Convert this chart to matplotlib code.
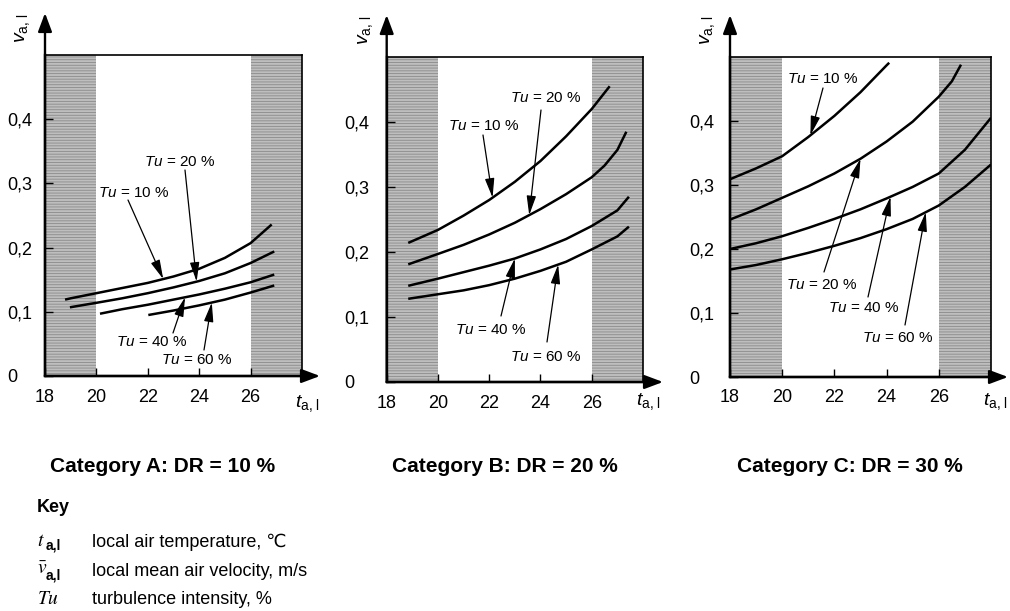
import numpy as np
import matplotlib
matplotlib.use("Agg")
import matplotlib.pyplot as plt

plt.rcParams['font.family'] = ['Liberation Sans', 'DejaVu Sans']
plt.rcParams['mathtext.fontset'] = 'custom'
plt.rcParams['mathtext.rm'] = 'Liberation Sans'
plt.rcParams['mathtext.it'] = 'Liberation Sans:italic'
plt.rcParams['mathtext.bf'] = 'Liberation Sans:bold'
plt.rcParams['hatch.linewidth'] = 0.6

# turbulence intensity of each curve, %
tu_levels = [10, 20, 40, 60]

# Category A: DR = 10 %  (local air temperature, local mean air velocity)
temps_a = [
    [18.78, 19, 20, 21, 22, 23, 24, 25, 26, 26.82],
    [18.97, 20, 21, 22, 23, 24, 25, 26, 26.92],
    [20.14, 21, 22, 23, 24, 25, 26, 26.92],
    [22.02, 23, 24, 25, 26, 26.92],
]
vel_a = [
    [0.119, 0.121, 0.129, 0.137, 0.145, 0.155, 0.167, 0.184, 0.207, 0.236],
    [0.107, 0.114, 0.121, 0.129, 0.138, 0.148, 0.160, 0.176, 0.194],
    [0.097, 0.104, 0.111, 0.119, 0.127, 0.136, 0.146, 0.158],
    [0.095, 0.102, 0.110, 0.119, 0.130, 0.141],
]

# Category B: DR = 20 %
temps_b = [
    [18.84, 20, 21, 22, 23, 24, 25, 26, 26.7],
    [18.84, 20, 21, 22, 23, 24, 25, 26, 26.5, 27, 27.35],
    [18.84, 20, 21, 22, 23, 24, 25, 26, 27, 27.45],
    [18.84, 20, 21, 22, 23, 24, 25, 26, 27, 27.45],
]
vel_b = [
    [0.214, 0.234, 0.256, 0.280, 0.308, 0.340, 0.378, 0.420, 0.455],
    [0.181, 0.197, 0.211, 0.227, 0.245, 0.266, 0.289, 0.315, 0.333, 0.357, 0.385],
    [0.148, 0.159, 0.169, 0.179, 0.190, 0.204, 0.220, 0.240, 0.264, 0.285],
    [0.128, 0.135, 0.141, 0.149, 0.159, 0.171, 0.185, 0.204, 0.224, 0.239],
]

# Category C: DR = 30 %
temps_c = [
    [18, 19, 20, 21, 22, 23, 24, 24.1],
    [18, 19, 20, 21, 22, 23, 24, 25, 26, 26.5, 26.85],
    [18, 19, 20, 21, 22, 23, 24, 25, 26, 27, 28],
    [18, 19, 20, 21, 22, 23, 24, 25, 26, 27, 28],
]
vel_c = [
    [0.309, 0.326, 0.345, 0.375, 0.408, 0.445, 0.487, 0.491],
    [0.246, 0.262, 0.280, 0.298, 0.318, 0.341, 0.368, 0.399, 0.438, 0.462, 0.488],
    [0.200, 0.209, 0.220, 0.233, 0.247, 0.262, 0.279, 0.297, 0.318, 0.355, 0.405],
    [0.168, 0.175, 0.184, 0.194, 0.205, 0.217, 0.231, 0.247, 0.268, 0.297, 0.332],
]

titles = ["Category A: DR = 10 %", "Category B: DR = 20 %", "Category C: DR = 30 %"]
x_ticks = [18, 20, 22, 24, 26]
y_ticks = [0, 0.1, 0.2, 0.3, 0.4]
y_ticklabels = ["0", "0,1", "0,2", "0,3", "0,4"]
comfort_range = (20, 26)

key_symbols = [r'$t$', r'$\bar{v}$', r'$Tu$']
key_subs = ["a,l", "a,l", ""]
key_texts = ["local air temperature, \u2103", "local mean air velocity, m/s",
             "turbulence intensity, %"]

W, H = 1010, 611
fig = plt.figure(figsize=(W / 100, H / 100), dpi=100)

# panel layout in pixels: box = left, top, right, bottom
panels = [
    dict(box=(45, 55, 302, 376), xtip=320, ytip=13, ypad=27.5,
         ylab=(23, 28), xlab=(295, 404),
         tips=[22.6, 23.9, 23.45, 24.49],
         labels=[(134, 193, 128, 200), (180, 162, 185, 170),
                 (152, 342, 173, 333), (197, 360, 204, 350)],
         title=163),
    dict(box=(386.7, 57, 643, 382), xtip=663, ytip=15, ypad=30.5,
         ylab=(366, 30), xlab=(636, 402),
         tips=[22.13, 23.56, 23.0, 24.69],
         labels=[(484, 126, 483, 135), (546, 98, 541, 110),
                 (491, 330, 501, 316), (546, 357, 547, 342)],
         title=505),
    dict(box=(730, 57, 991, 377), xtip=1008, ytip=15, ypad=29,
         ylab=(708, 30), xlab=(983, 402),
         tips=[21.08, 23.0, 24.15, 25.5],
         labels=[(823, 79, 823, 88), (822, 285, 824, 272),
                 (864, 308, 868, 297), (898, 338, 905, 325)],
         title=850),
]
all_temps = [temps_a, temps_b, temps_c]
all_vels = [vel_a, vel_b, vel_c]

for p, temps, vels, title in zip(panels, all_temps, all_vels, titles):
    l, t, r, b = p['box']
    ax = fig.add_axes([l / W, 1 - b / H, (r - l) / W, (b - t) / H])
    ax.set_xlim(18, 28)
    ax.set_ylim(0, 0.5)

    # shaded areas outside the comfort range
    for x0, x1 in [(18, comfort_range[0]), (comfort_range[1], 28)]:
        ax.axvspan(x0, x1, facecolor='#bebebe', edgecolor='#8a8a8a',
                   hatch='------', lw=0, zorder=0)

    for tt, vv in zip(temps, vels):
        ax.plot(tt, vv, color='black', lw=1.8, solid_capstyle='butt',
                solid_joinstyle='round', zorder=3)

    ax.set_xticks(x_ticks)
    ax.set_yticks(y_ticks, y_ticklabels)
    ax.tick_params(direction='in', length=6, width=1.0, labelsize=13)
    ax.tick_params(axis='x', pad=9)
    ax.tick_params(axis='y', pad=p['ypad'])
    for lab in ax.get_yticklabels():
        lab.set_ha('left')
    for side in ['left', 'bottom']:
        ax.spines[side].set_linewidth(1.7)
    for side in ['top', 'right']:
        ax.spines[side].set_linewidth(1.2)

    # axis arrows
    arr = dict(arrowstyle='-|>,head_length=0.8,head_width=0.3', lw=1.7,
               color='black', shrinkA=0, shrinkB=0, mutation_scale=14)
    ax.annotate('', xy=(p['xtip'], H - b), xycoords='figure pixels',
                xytext=(l, H - b), textcoords='figure pixels',
                arrowprops=arr, annotation_clip=False)
    ax.annotate('', xy=(l, H - p['ytip']), xycoords='figure pixels',
                xytext=(l, H - b), textcoords='figure pixels',
                arrowprops=arr, annotation_clip=False)

    fig.text(p['ylab'][0] / W, 1 - p['ylab'][1] / H, r'$v_{\mathrm{a,\,l}}$',
             rotation=90, ha='center', va='center', fontsize=14)
    fig.text(p['xlab'][0] / W, 1 - p['xlab'][1] / H, r'$t_{\mathrm{a,\,l}}$',
             ha='left', va='center', fontsize=14)

    # Tu labels with arrows pointing to curves
    for tu, tt, vv, tip, (cx, cy, ax_, ay_) in zip(tu_levels, temps, vels,
                                                   p['tips'], p['labels']):
        fig.text(cx / W, 1 - cy / H, r'$Tu$ = %d %%' % tu, ha='center',
                 va='center', fontsize=11)
        ax.annotate('', xy=(tip, np.interp(tip, tt, vv)), xycoords='data',
                    xytext=(ax_, H - ay_), textcoords='figure pixels',
                    arrowprops=dict(arrowstyle='-|>,head_length=0.9,head_width=0.22',
                                    lw=0.9, color='black', shrinkA=0, shrinkB=0,
                                    mutation_scale=13),
                    zorder=4)

    fig.text(p['title'] / W, 1 - 467 / H, title, ha='center', va='center',
             fontsize=15, fontweight='bold')

# key
fig.text(37 / W, 1 - 508 / H, "Key", ha='left', va='center', fontsize=13,
         fontweight='bold')
for i, (sym, sub, txt) in enumerate(zip(key_symbols, key_subs, key_texts)):
    y = [542, 571, 600][i]
    fig.text(37 / W, 1 - (y - 1) / H, sym, ha='left', va='center', fontsize=14,
             math_fontfamily='stix')
    if sub:
        fig.text(46 / W, 1 - (y + 4) / H, sub, ha='left', va='center',
                 fontsize=10, fontweight='bold')
    fig.text(92 / W, 1 - y / H, txt, ha='left', va='center', fontsize=13)

fig.savefig("out.png", dpi=100)
